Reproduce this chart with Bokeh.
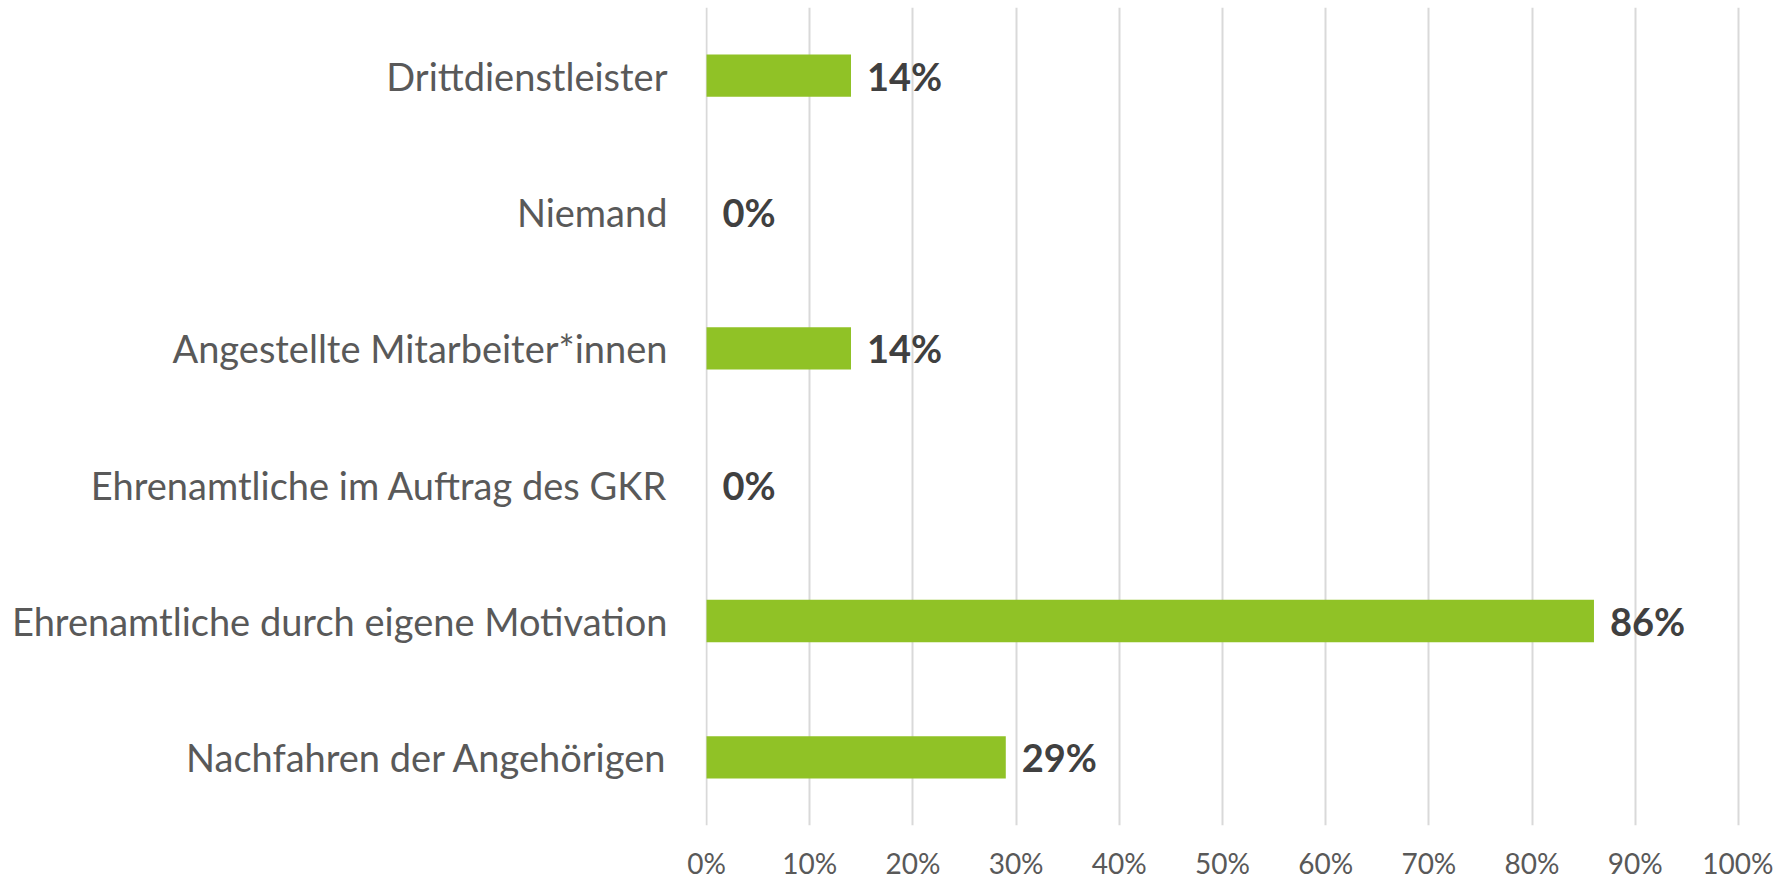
from bokeh.plotting import figure
from bokeh.models import FactorRange, Range1d, FixedTicker, ColumnDataSource
from bokeh.core.properties import value
from bokeh.embed import file_html
from bokeh.resources import INLINE

# ---- data ----
categories = [
    "Nachfahren der Angehörigen",
    "Ehrenamtliche durch eigene Motivation",
    "Ehrenamtliche im Auftrag des GKR",
    "Angestellte Mitarbeiter*innen",
    "Niemand",
    "Drittdienstleister",
]
values_pct = [29, 86, 0, 14, 0, 14]
value_labels = ["29%", "86%", "0%", "14%", "0%", "14%"]
tick_values = [0, 10, 20, 30, 40, 50, 60, 70, 80, 90, 100]
tick_labels = ["0%", "10%", "20%", "30%", "40%", "50%", "60%", "70%", "80%", "90%", "100%"]

FONT = "Lato"
W, H = 1773, 882

src = ColumnDataSource(dict(cat=categories, val=values_pct, lab=value_labels))

p = figure(
    width=W, height=H,
    y_range=FactorRange(factors=categories, range_padding=0),
    x_range=Range1d(-0.1, 100.2),
    output_backend="svg", toolbar_location=None,
    min_border_left=705, min_border_right=W - 1740, min_border_top=7, min_border_bottom=0,
)
p.outline_line_color = None
p.background_fill_color = "white"
p.border_fill_color = "white"

p.hbar(y="cat", left=0, right="val", height=0.31, source=src,
       fill_color="#90C226", line_color=None)

p.text(x="val", y="cat", text="lab", source=src, x_offset=16,
       text_baseline="middle", text_align="left",
       text_font=value(FONT), text_font_style="bold", text_font_size="38px",
       text_color="#404040")

# axes
p.xaxis.ticker = FixedTicker(ticks=tick_values)
p.xaxis.major_label_overrides = {t: l for t, l in zip(tick_values, tick_labels)}
p.xaxis.axis_line_color = None
p.xaxis.major_tick_line_color = None
p.xaxis.minor_tick_line_color = None
p.xaxis.major_label_standoff = 14
p.xaxis.major_label_text_font = FONT
p.xaxis.major_label_text_font_size = "28px"
p.xaxis.major_label_text_color = "#595959"

p.yaxis.axis_line_color = None
p.yaxis.major_tick_line_color = None
p.yaxis.minor_tick_line_color = None
p.yaxis.major_label_standoff = 32
p.yaxis.major_label_text_font = FONT
p.yaxis.major_label_text_font_size = "38px"
p.yaxis.major_label_text_color = "#595959"

p.xgrid.grid_line_color = "#D9D9D9"
p.xgrid.grid_line_width = 2
p.ygrid.grid_line_color = None

open("out.html", "w").write(file_html(p, INLINE))
